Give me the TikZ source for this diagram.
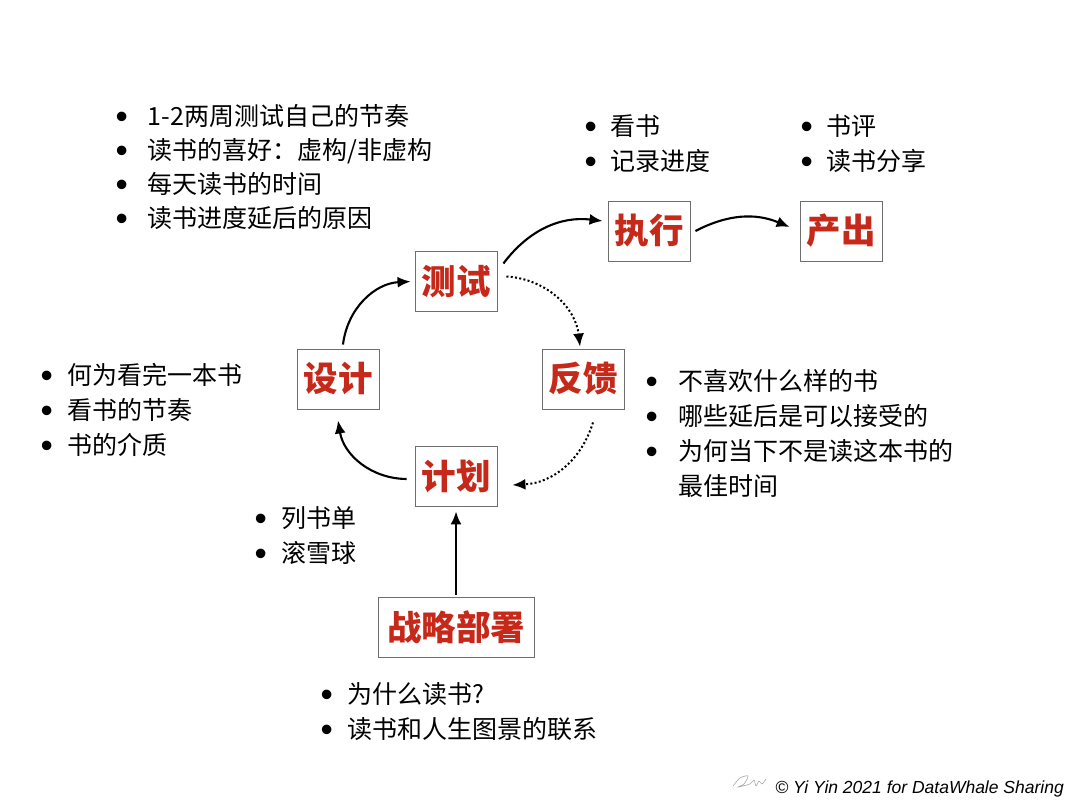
\documentclass[tikz,border=0pt]{standalone}
\usepackage{fontspec}
\setmainfont{Noto Sans CJK SC}
\newfontfamily\bulfont{Liberation Sans}
\newfontfamily\sigfont{Liberation Sans}
\usetikzlibrary{arrows.meta}
\definecolor{stagered}{RGB}{198,40,26}
\definecolor{boxgray}{RGB}{110,110,110}
\newcommand\bul[1][26pt]{\makebox[#1][l]{\hspace*{-1pt}\raisebox{-3pt}{\fontsize{35}{35}\bulfont •}}}

\tikzset{
  stage/.style={draw=boxgray, line width=0.9pt, text=stagered,
    font=\fontsize{34.5}{40}\selectfont\bfseries,
    minimum width=82pt, minimum height=60pt, inner sep=0pt},
  notes/.style={anchor=north west, inner sep=0pt, align=left,
    font=\fontsize{25}{35}\selectfont},
  flow/.style={line width=2.1pt, -{Latex[length=13pt,width=11pt]}},
  fb/.style={line width=2pt, dash pattern=on 2pt off 2.3pt,
    -{Latex[length=13pt,width=11pt]}}
}

\begin{document}
\begin{tikzpicture}[x=1pt, y=-1pt]
\useasboundingbox (0,0) rectangle (1080,802);

% stages
\node[stage] (ceshi) at (456,281.5) {测试};
\node[stage] (sheji) at (338,379) {设计};
\node[stage] (fankui) at (583,379) {反馈};
\node[stage] (jihua) at (456,476) {计划};
\node[stage] (zhixing) at (649,231) {执行};
\node[stage] (chanchu) at (841,231) {产出};
\node[stage, minimum width=156pt] (zhanlue) at (456,627) {战略部署};

% notes
\node[notes, font=\fontsize{25}{34}\selectfont] (testnotes) at (116.5,104.5)
  {\bul[31pt]1-2两周测试自己的节奏\\\bul[31pt]读书的喜好：虚构/非虚构\\
   \bul[31pt]每天读书的时间\\\bul[31pt]读书进度延后的原因};
\node[notes] (doingnotes) at (585.5,114.5) {\bul[25pt]看书\\\bul[25pt]记录进度};
\node[notes] (outputnotes) at (801.5,114.5) {\bul[25pt]书评\\\bul[25pt]读书分享};
\node[notes] (designnotes) at (41.5,363.5)
  {\bul 何为看完一本书\\\bul 看书的节奏\\\bul 书的介质};
\node[notes] (feedbacknotes) at (646.5,369.5)
  {\bul[32pt]不喜欢什么样的书\\\bul[32pt]哪些延后是可以接受的\\
   \bul[32pt]为何当下不是读这本书的\\\makebox[32pt]{}最佳时间};
\node[notes] (plannotes) at (255.5,506.5) {\bul 列书单\\\bul 滚雪球};
\node[notes] (strategynotes) at (321.5,682.5)
  {\bul 为什么读书?\\\bul 读书和人生图景的联系};

% cycle
\draw[flow] ([xshift=5pt,yshift=4pt]sheji.north) to[bend left=40] ([xshift=-4pt]ceshi.west);
\draw[fb] ([xshift=9pt,yshift=5pt]ceshi.east) to[bend left=40] ([xshift=-3pt,yshift=2pt]fankui.north);
\draw[fb] ([xshift=10pt,yshift=-13pt]fankui.south) to[bend left=35] ([xshift=15pt,yshift=-9pt]jihua.east);
\draw[flow] ([xshift=-8pt,yshift=-3pt]jihua.west) to[bend left=40] ([yshift=-11pt]sheji.south);

% output line
\draw[flow] ([xshift=6pt,yshift=18pt]ceshi.east) to[bend left=30] ([xshift=-5pt,yshift=10pt]zhixing.west);
\draw[flow] ([xshift=5pt]zhixing.east) to[bend left=25] ([xshift=-10pt,yshift=4pt]chanchu.west);
\draw[flow] ([yshift=2pt]zhanlue.north) -- ([yshift=-5pt]jihua.south);

% credit
\draw[gray!70, line width=0.6pt] plot[smooth] coordinates
  {(733,786) (740,778) (748,776) (744,784) (738,787) (750,784) (754,780)
   (756,786) (759,781) (762,784) (766,779)};
\node[anchor=base east, inner sep=0pt, font=\sigfont\itshape\fontsize{17.5}{20}\selectfont]
  (credit) at (1064,793) {© Yi Yin 2021 for DataWhale Sharing};
\end{tikzpicture}
\end{document}
